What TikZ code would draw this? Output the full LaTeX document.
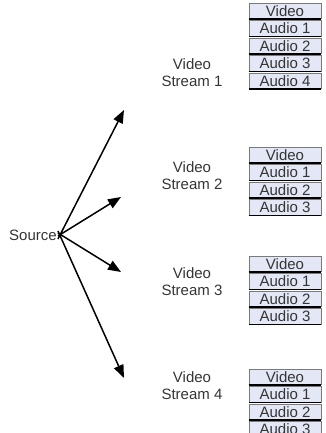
\documentclass[tikz,border=0pt]{standalone}
\usepackage{fontspec}
\setmainfont{Liberation Sans}
\usetikzlibrary{arrows.meta}
\definecolor{boxfill}{HTML}{E4E7F5}
\definecolor{boxline}{HTML}{7A7A7A}
\definecolor{txt}{HTML}{353535}
\tikzset{
  chan/.style={draw=boxline, line width=0.8pt, fill=boxfill, minimum width=72pt,
    minimum height=15.5pt, inner sep=0pt, font=\fontsize{15}{15}\selectfont, text=txt},
  lbl/.style={align=center, font=\fontsize{15}{17}\selectfont, text=txt},
  feed/.style={line width=1.5pt, -{Triangle[length=13pt,width=10pt]}}
}
\newcommand{\chanbox}[3]{% name, y, text
  \node[chan] (#1) at (285,#2) {#3};
  \draw[line width=1.4pt] (#1.south west) -- (#1.south east);
}
\begin{document}
\begin{tikzpicture}[x=1pt,y=-1pt]
\useasboundingbox (0,0) rectangle (325,433);
% stacks of channels
\chanbox{s1v}{11}{Video}
\chanbox{s1a}{28.5}{Audio 1}
\chanbox{s1b}{46}{Audio 2}
\chanbox{s1c}{63.5}{Audio 3}
\chanbox{s1d}{81}{Audio 4}
\chanbox{s2v}{155}{Video}
\chanbox{s2a}{172.5}{Audio 1}
\chanbox{s2b}{190}{Audio 2}
\chanbox{s2c}{207.5}{Audio 3}
\chanbox{s3v}{264}{Video}
\chanbox{s3a}{281.5}{Audio 1}
\chanbox{s3b}{299}{Audio 2}
\chanbox{s3c}{316.5}{Audio 3}
\chanbox{s4v}{377}{Video}
\chanbox{s4a}{394.5}{Audio 1}
\chanbox{s4b}{412}{Audio 2}
\chanbox{s4c}{429.5}{Audio 3}
% stream labels
\node[lbl] (v1) at (192,73) {Video\\Stream 1};
\node[lbl] (v2) at (192,176) {Video\\Stream 2};
\node[lbl] (v3) at (192,282) {Video\\Stream 3};
\node[lbl] (v4) at (192,386) {Video\\Stream 4};
% source and its feeds
\node[font=\fontsize{15}{15}\selectfont, text=txt, inner sep=1pt] (src) at (33,235) {Source};
\coordinate (t1) at (124,110);
\coordinate (t2) at (121,197);
\coordinate (t3) at (121,272);
\coordinate (t4) at (124,378);
\draw[feed] ([yshift=-4pt]src.east) -- (t1);
\draw[feed] ([yshift=-1pt]src.east) -- (t2);
\draw[feed] ([yshift=2pt]src.east) -- (t3);
\draw[feed] ([yshift=4pt]src.east) -- (t4);
\end{tikzpicture}
\end{document}
